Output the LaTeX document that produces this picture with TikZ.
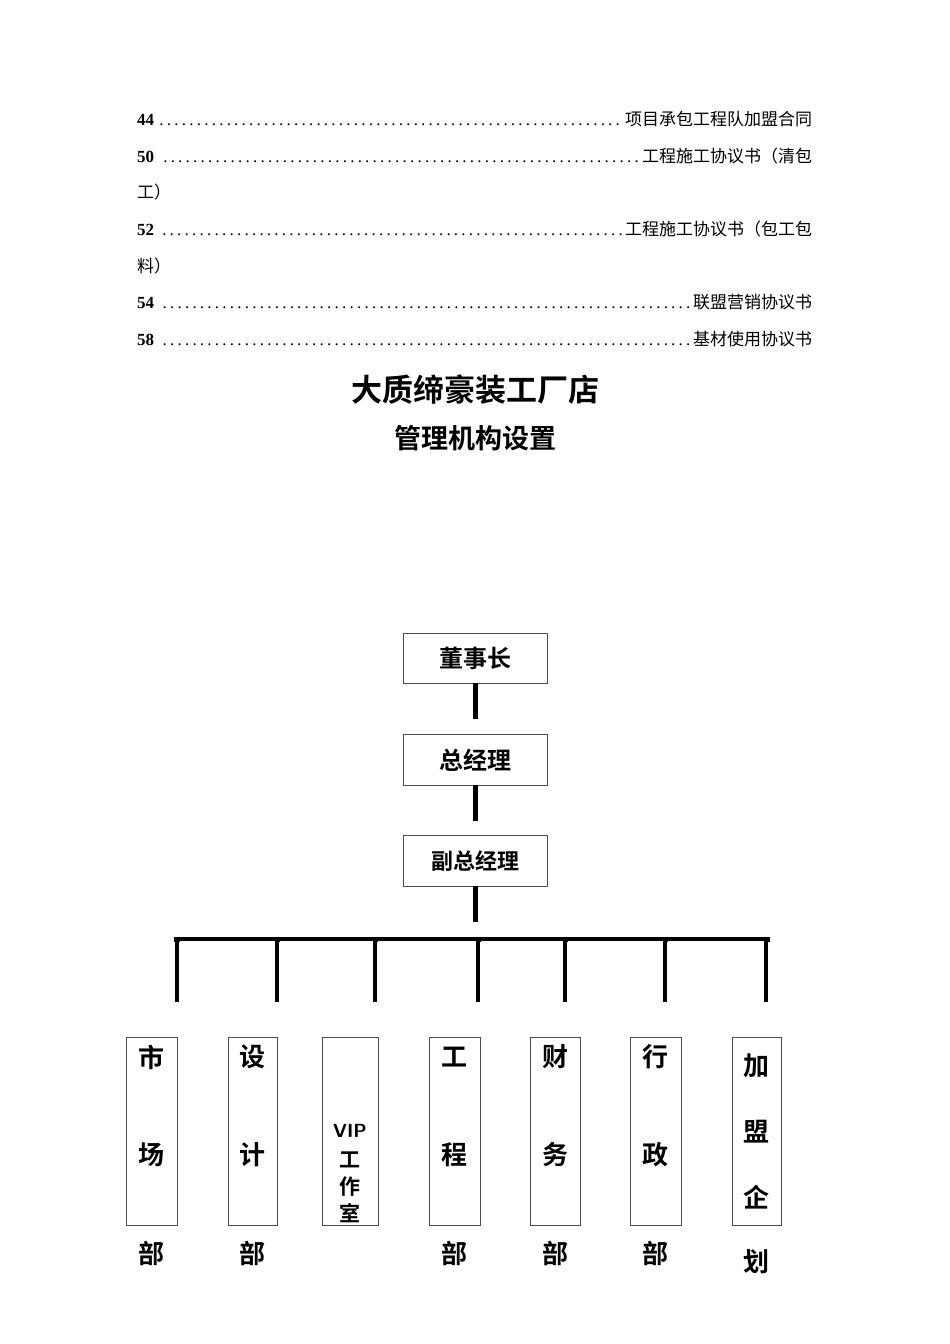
\documentclass[tikz,border=0pt]{standalone}
\usepackage{fontspec}
\setmainfont{Liberation Serif}
\newfontfamily\cjk{Noto Sans CJK SC}
\newfontfamily\cjkb{Noto Sans CJK SC Bold}
\begin{document}
\begin{tikzpicture}[x=1pt,y=-1pt,
  box/.style={draw=black!70,line width=0.8pt,inner sep=0pt,anchor=north west},
  conn/.style={line width=5pt},
  toc/.style={anchor=base west,inner sep=0pt,text width=675pt,font=\fontsize{17}{17}\selectfont},
  ch/.style={font=\cjkb\fontsize{26}{26}\selectfont,inner sep=0pt}]
\useasboundingbox (0,0) rectangle (950,1344);
\node[toc] (t1) at (137,125) {\textbf{44}\dotfill{\cjk 项目承包工程队加盟合同}};
\node[toc] (t2) at (137,162) {\textbf{50} \dotfill{\cjk 工程施工协议书（清包}};
\node[toc] (t3) at (137,198) {{\cjk 工）}};
\node[toc] (t4) at (137,235) {\textbf{52} \dotfill{\cjk 工程施工协议书（包工包}};
\node[toc] (t5) at (137,272) {{\cjk 料）}};
\node[toc] (t6) at (137,308) {\textbf{54} \dotfill{\cjk 联盟营销协议书}};
\node[toc] (t7) at (137,345) {\textbf{58} \dotfill{\cjk 基材使用协议书}};
\node[font=\cjkb\fontsize{31}{31}\selectfont] (title) at (475,390) {大质缔豪装工厂店};
\node[font=\cjkb\fontsize{27}{27}\selectfont] (sub) at (475,438) {管理机构设置};
\node[box,minimum width=144pt,minimum height=50pt,font=\cjkb\fontsize{24}{24}\selectfont] (b1) at (403,633) {董事长\hspace{20pt}};
\node[box,minimum width=144pt,minimum height=51pt,font=\cjkb\fontsize{24}{24}\selectfont] (b2) at (403,734) {总经理\hspace{8pt}};
\node[box,minimum width=144pt,minimum height=51pt,font=\cjkb\fontsize{22}{22}\selectfont] (b3) at (403,835) {副总经理};
\coordinate (c1) at (475,719);
\coordinate (c2) at (475,821);
\coordinate (c3) at (475,922);
\draw[conn] (475,683) -- (c1);
\draw[conn] (475,785) -- (c2);
\draw[conn] (475,886) -- (c3);
\coordinate (hl) at (174,939);
\coordinate (hr) at (770,939);
\draw[line width=5pt] (hl) -- (hr);
\draw[white,line width=0.8pt] (180,941.5) -- (764,941.5);
\foreach \x in {177,277,375,478,565,665,766}{
  \draw[line width=5pt] (\x,937) -- (\x,1002);
  \draw[white,line width=0.8pt] (\x+2,942) -- (\x+2,1002);
}
\foreach \n/\xa/\xb/\a/\b in {d1/126/177/市/场, d2/228/277/设/计, d4/429/480/工/程, d5/530/580/财/务, d6/630/681/行/政}{
  \node[box,minimum width=\xb-\xa,minimum height=188pt] (\n) at (\xa,1037) {};
  \node[ch] at ({(\xa+\xb)/2},1057) {\a};
  \node[ch] at ({(\xa+\xb)/2},1155) {\b};
  \node[ch] at ({(\xa+\xb)/2},1253) {部};
}
\node[box,minimum width=56pt,minimum height=188pt] (d3) at (322,1037) {};
\node[font=\bfseries\sffamily\fontsize{19}{19}\selectfont,inner sep=0pt] at (350,1131) {VIP};
\node[ch,font=\cjkb\fontsize{21}{21}\selectfont] at (350,1160) {工};
\node[ch,font=\cjkb\fontsize{21}{21}\selectfont] at (350,1187) {作};
\node[ch,font=\cjkb\fontsize{21}{21}\selectfont] at (350,1213) {室};
\node[box,minimum width=49pt,minimum height=188pt] (d7) at (732,1037) {};
\node[ch] at (756,1066) {加};
\node[ch] at (756,1132) {盟};
\node[ch] at (756,1197) {企};
\node[ch] at (756,1262) {划};
\end{tikzpicture}
\end{document}
